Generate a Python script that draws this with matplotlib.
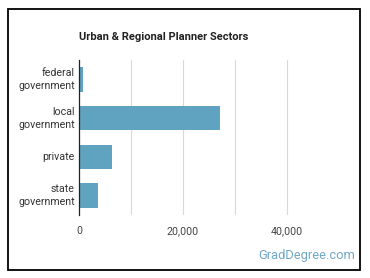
import matplotlib.pyplot as plt
from matplotlib.patches import Rectangle

sectors = ['federal\ngovernment', 'local\ngovernment', 'private', 'state\ngovernment']
workers = [800, 27100, 6300, 3700]
xticks = [0, 20000, 40000]
xtick_labels = ['0', '20,000', '40,000']

plt.rcParams['font.family'] = ['Roboto', 'DejaVu Sans']

fig = plt.figure(figsize=(3.7, 2.78), dpi=100)
fig.patch.set_facecolor('white')
fig.patches.append(Rectangle((8/370, 8/278), 352/370, 261/278, transform=fig.transFigure,
                             fill=False, edgecolor='black', linewidth=1.3))

ax = fig.add_axes([79/370, 1-215/278, 260/370, 155/278])
ypos = list(range(len(sectors)))
ax.barh(ypos, workers, height=0.63, color='#5fa3c0', zorder=3)
ax.set_ylim(len(sectors)-0.5, -0.5)
ax.set_xlim(0, 50000)
ax.set_yticks(ypos)
ax.set_yticklabels([])
# category labels, right aligned against the axis
for y, name in zip(ypos, sectors):
    ax.annotate(name, xy=(0, y), xycoords=('axes fraction', 'data'),
                xytext=(-3, 0), textcoords='offset points', ha='right', va='center',
                fontsize=7.7, color='#333333', linespacing=1.35, multialignment='right')
ax.set_xticks([10000, 20000, 30000, 40000], minor=False)
ax.set_xticklabels(['', '20,000', '', '40,000'])
ax.set_xticks([0], minor=True)
ax.set_xticklabels(['0'], minor=True)
ax.tick_params(axis='x', which='both', length=0, labelsize=7.7, labelcolor='#444444', pad=8)
ax.tick_params(axis='y', length=0, pad=3)
ax.grid(axis='x', which='major', color='#d9d9d9', linewidth=0.8, zorder=0)
for s in ['top', 'right', 'bottom']:
    ax.spines[s].set_visible(False)
ax.spines['left'].set_color('#222222')
ax.spines['left'].set_linewidth(0.9)
ax.spines['left'].set_zorder(4)

fig.text(79/370, 1-37/278, 'Urban & Regional Planner Sectors', fontsize=8,
         fontweight='bold', color='#222222', va='center', ha='left')
fig.text(355/370, 1-256/278, 'GradDegree.com', fontsize=9.3, color='#6fa8c8',
         va='center', ha='right')

fig.savefig('out.png', dpi=100)
